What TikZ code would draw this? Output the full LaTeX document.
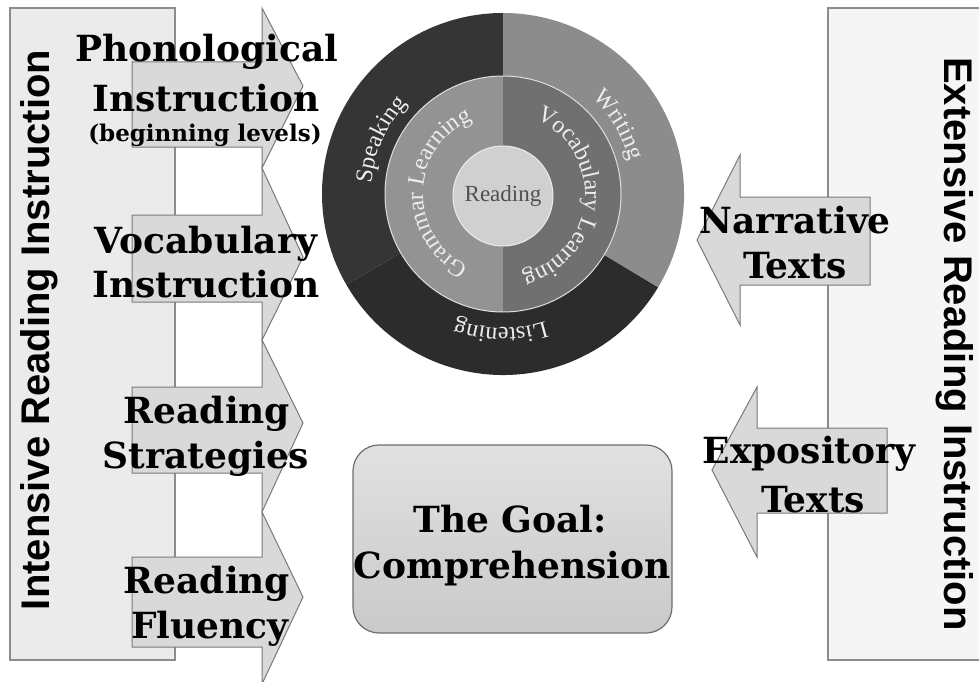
\documentclass[tikz,border=0pt]{standalone}
\usepackage{fontspec}
\setmainfont{Liberation Serif}
\newfontfamily\labfont{DejaVu Serif}
\newfontfamily\sidefont{Liberation Sans}
\usetikzlibrary{decorations.text}
\definecolor{leftpanel}{HTML}{EBEBEB}
\definecolor{rightpanel}{HTML}{F5F5F5}
\definecolor{panelline}{HTML}{8C8C8C}
\definecolor{arrowfill}{HTML}{D9D9D9}
\definecolor{arrowline}{HTML}{7A7A7A}
\definecolor{goalfill}{HTML}{D4D4D4}
\definecolor{goalline}{HTML}{6E6E6E}
\definecolor{speakc}{HTML}{353535}
\definecolor{listenc}{HTML}{2C2C2C}
\definecolor{writec}{HTML}{8C8C8C}
\definecolor{gramc}{HTML}{939393}
\definecolor{vocc}{HTML}{707070}
\definecolor{readc}{HTML}{D0D0D0}
\definecolor{readtext}{HTML}{505050}
\definecolor{curvetext}{HTML}{EDEDED}
\newcommand\curvefmt{\color{curvetext}\fontsize{24}{24}\selectfont}
\begin{document}
\begin{tikzpicture}[x=1pt,y=-1pt,
  lab/.style={font=\labfont\bfseries\fontsize{36}{40}\selectfont, anchor=base, inner sep=0pt},
  smalllab/.style={font=\labfont\bfseries\fontsize{23}{26}\selectfont, anchor=base, inner sep=0pt},
  sidetext/.style={font=\sidefont\bfseries\fontsize{40}{44}\selectfont, anchor=mid, inner sep=0pt},
  arrowshape/.style={fill=arrowfill, draw=arrowline, line width=1pt, line join=miter},
  panel/.style={draw=panelline, line width=1.2pt},
  curved/.style={decorate, decoration={text along path, text align=center, text={|\curvefmt|#1}}}
]
\useasboundingbox (0,0) rectangle (979,682);
\fill[white] (0,0) rectangle (979,682);

% side panels
\path[panel, fill=leftpanel] (10,8) rectangle (175,660);
\path[panel, fill=rightpanel] (828,8) rectangle (1000,660);
\node[sidetext, rotate=90] (intensive) at (47,330) {Intensive Reading Instruction};
\node[sidetext, rotate=-90] (extensive) at (947,344) {Extensive Reading Instruction};

% left block arrows
\path[arrowshape] (132,62) -- (262,62) -- (262,8) -- (303,86) -- (262,168) -- (262,147) -- (132,147) -- cycle;
\path[arrowshape] (132,215) -- (262,215) -- (262,168) -- (303,257) -- (262,340) -- (262,302) -- (132,302) -- cycle;
\path[arrowshape] (132,387) -- (262,387) -- (262,340) -- (303,423) -- (262,512) -- (262,473) -- (132,473) -- cycle;
\path[arrowshape] (132,557) -- (262,557) -- (262,512) -- (303,597) -- (262,684) -- (262,647) -- (132,647) -- cycle;

\node[lab] (p1) at (207,62) {Phonological};
\node[lab] (p2) at (206,112) {Instruction};
\node[smalllab] (p3) at (205,142) {(beginning levels)};
\node[lab] (v1) at (206,253) {Vocabulary};
\node[lab] (v2) at (206,297) {Instruction};
\node[lab] (s1) at (207,423) {Reading};
\node[lab] (s2) at (206,468) {Strategies};
\node[lab] (f1) at (207,593) {Reading};
\node[lab] (f2) at (210,638) {Fluency};

% right block arrows
\path[arrowshape] (870,197) -- (740,197) -- (740,155) -- (697,240) -- (740,325) -- (740,285) -- (870,285) -- cycle;
\path[arrowshape] (887,428) -- (757,428) -- (757,387) -- (712,470) -- (757,557) -- (757,513) -- (887,513) -- cycle;
\node[lab] (n1) at (795,233) {Narrative};
\node[lab] (n2) at (795,278) {Texts};
\node[lab] (e1) at (809,463) {Expository};
\node[lab] (e2) at (813,512) {Texts};

% goal box
\node[draw=goalline, line width=1.2pt, rounded corners=26pt, top color=goalfill!70!white, bottom color=goalfill!95!black,
      minimum width=319pt, minimum height=188pt, inner sep=0pt] (goal) at (512.5,539) {};
\node[lab] (g1) at (510,532) {The Goal:};
\node[lab] (g2) at (512,578) {Comprehension};

% circle
\begin{scope}[shift={(503pt,-194pt)}, y=1pt]
  \fill[speakc] (0,0) -- (90:181) arc[start angle=90, end angle=210, radius=181] -- cycle;
  \fill[listenc] (0,0) -- (210:181) arc[start angle=210, end angle=329, radius=181] -- cycle;
  \fill[writec] (0,0) -- (-31:181) arc[start angle=-31, end angle=90, radius=181] -- cycle;
  \fill[gramc] (0,0) -- (90:118) arc[start angle=90, end angle=270, radius=118] -- cycle;
  \fill[vocc] (0,0) -- (-90:118) arc[start angle=-90, end angle=90, radius=118] -- cycle;
  \draw[white!75!gray, line width=1pt] (0,0) circle[radius=118];
  \node[circle, minimum size=100pt, inner sep=0pt, fill=readc, draw=white!85!gray, line width=1pt,
        font=\fontsize{23}{23}\selectfont, text=readtext] (reading) at (0,-2) {Reading};
  \path[curved=Speaking] (186:132) arc[start angle=186, end angle=126, radius=132];
  \path[curved=Writing] (61:131) arc[start angle=61, end angle=1, radius=131];
  \path[curved=Listening] (-61:134) arc[start angle=-61, end angle=-121, radius=134];
  \path[curved={Grammar Learning}] (265:80) arc[start angle=265, end angle=92, radius=80];
  \path[curved={Vocabulary Learning}] (86:82) arc[start angle=86, end angle=-96, radius=82];
\end{scope}
\end{tikzpicture}
\end{document}
